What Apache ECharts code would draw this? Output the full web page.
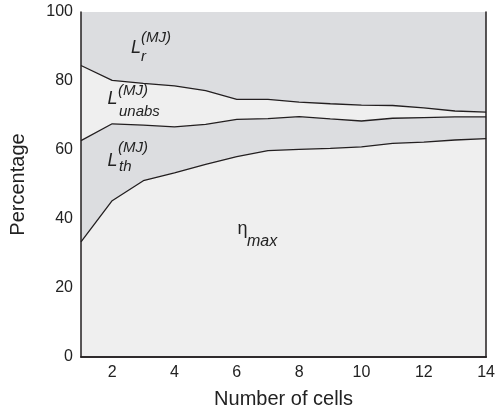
<!DOCTYPE html>
<html>
<head>
<meta charset="utf-8">
<script src="https://cdn.jsdelivr.net/npm/echarts@6/dist/echarts.min.js"></script>
<style>html,body{margin:0;padding:0;background:#fff}#c{width:498px;height:416px}</style>
</head>
<body>
<div id="c"></div>
<script>
// Number of cells
var cells = [1,2,3,4,5,6,7,8,9,10,11,12,13,14];
// Upper boundary of eta_max region (%)
var etaMax = [33.4,45.3,51.1,53.4,55.8,58.1,59.8,60.2,60.5,60.9,61.9,62.3,62.9,63.3];
// Upper boundary of L_th region (%)
var thTop = [62.7,67.6,67.2,66.7,67.4,68.9,69.1,69.7,69.0,68.4,69.2,69.4,69.6,69.6];
// Upper boundary of L_unabs region (%)
var unabsTop = [84.5,80.2,79.3,78.6,77.2,74.7,74.7,73.9,73.4,73.0,72.9,72.2,71.3,71.0];
// Top of chart (L_r region reaches 100%)
var total = [100,100,100,100,100,100,100,100,100,100,100,100,100,100];
var xTicks = [2,4,6,8,10,12,14];

var DARK = '#dcdde0', LIGHT = '#efefef', LINE = '#231f20';
var FONT = 'Liberation Sans, Arial, Helvetica, sans-serif';
function pairs(v){ return cells.map(function(c,i){ return [c, v[i]]; }); }
function area(v, color, showLine){
  return {
    type:'line', data:pairs(v), symbol:'none', smooth:false, animation:false,
    lineStyle: showLine ? {color:LINE, width:1.3} : {width:0, opacity:0},
    areaStyle:{color:color, opacity:1}
  };
}
var frame = {show:true, lineStyle:{color:LINE, width:1.5}};
var chart = echarts.init(document.getElementById('c'));
chart.setOption({
  animation:false,
  grid:{left:80, right:10, top:12, bottom:59},
  xAxis:[{
    type:'value', min:1, max:14, z:10,
    name:'Number of cells', nameLocation:'middle', nameGap:32,
    nameTextStyle:{fontFamily:FONT, fontSize:20, color:'#222'},
    axisLine:frame,
    axisTick:{show:false},
    splitLine:{show:false},
    axisLabel:{customValues:xTicks, fontFamily:FONT, fontSize:16, color:'#222', margin:8}
  },{
    type:'value', min:1, max:14, position:'top', z:10,
    axisLine:frame, axisTick:{show:false}, axisLabel:{show:false}, splitLine:{show:false}
  }],
  yAxis:[{
    type:'value', min:0, max:100, interval:20, z:10,
    name:'Percentage', nameLocation:'middle', nameGap:53,
    nameTextStyle:{fontFamily:FONT, fontSize:20, color:'#222'},
    axisLine:frame,
    axisTick:{show:false},
    splitLine:{show:false},
    axisLabel:{fontFamily:FONT, fontSize:16, color:'#222', margin:8}
  },{
    type:'value', min:0, max:100, position:'right', z:10,
    axisLine:frame, axisTick:{show:false}, axisLabel:{show:false}, splitLine:{show:false}
  }],
  series:[
    area(total, DARK, false),
    area(unabsTop, LIGHT, true),
    area(thTop, DARK, true),
    area(etaMax, LIGHT, true)
  ],
  graphic:[
    {type:'text', z:100, style:{text:'L', x:131, y:47.5, font:'italic 18px '+FONT, fill:'#222', verticalAlign:'middle'}},
    {type:'text', z:100, style:{text:'(MJ)', x:141, y:37.7, font:'italic 15px '+FONT, fill:'#222', verticalAlign:'middle'}},
    {type:'text', z:100, style:{text:'r', x:141, y:57, font:'italic 15px '+FONT, fill:'#222', verticalAlign:'middle'}},

    {type:'text', z:100, style:{text:'L', x:107.5, y:99.2, font:'italic 18px '+FONT, fill:'#222', verticalAlign:'middle'}},
    {type:'text', z:100, style:{text:'(MJ)', x:118, y:90.7, font:'italic 15px '+FONT, fill:'#222', verticalAlign:'middle'}},
    {type:'text', z:100, style:{text:'unabs', x:119, y:112.2, font:'italic 15px '+FONT, fill:'#222', verticalAlign:'middle'}},

    {type:'text', z:100, style:{text:'L', x:107.5, y:161.2, font:'italic 18px '+FONT, fill:'#222', verticalAlign:'middle'}},
    {type:'text', z:100, style:{text:'(MJ)', x:118, y:147.7, font:'italic 15px '+FONT, fill:'#222', verticalAlign:'middle'}},
    {type:'text', z:100, style:{text:'th', x:119, y:167.2, font:'italic 15px '+FONT, fill:'#222', verticalAlign:'middle'}},

    {type:'text', z:100, style:{text:'\u03b7', x:237.5, y:229.5, font:'18px '+FONT, fill:'#222', verticalAlign:'middle'}},
    {type:'text', z:100, style:{text:'max', x:247, y:242, font:'italic 16px '+FONT, fill:'#222', verticalAlign:'middle'}}
  ]
});
</script>
</body>
</html>
